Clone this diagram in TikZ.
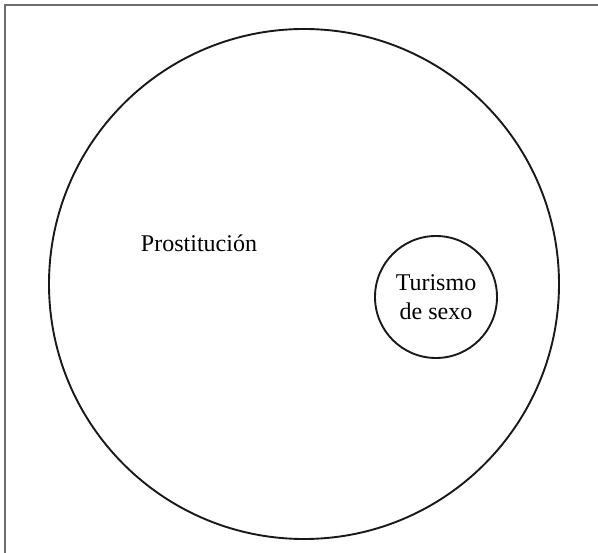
\documentclass[tikz,border=0pt]{standalone}
\usepackage{fontspec}
\setmainfont{Liberation Serif}
\definecolor{frame}{HTML}{6E6E6E}
\tikzset{
  setring/.style={draw=black!90, line width=1.9pt, circle, inner sep=0pt},
  setlbl/.style={font=\fontsize{24}{29}\selectfont, align=center, inner sep=0pt},
  edge/.style={draw=frame, line width=2pt},
}
\begin{document}
\begin{tikzpicture}[x=1pt,y=-1pt]
\useasboundingbox (0,0) rectangle (598,553);

% ----- frame (top and left only) -----
\coordinate (cornerTL) at (4.5,5);
\coordinate (cornerTR) at (598,5);
\coordinate (cornerBL) at (4.5,553);
\draw[edge] (cornerTR) -- (cornerTL) -- (cornerBL);

% ----- outer set -----
\node[setring, minimum size=510pt] (prost) at (304,284) {};
\node[setlbl, anchor=base] (prostlbl) at (199,252) {Prostitución};

% ----- inner set -----
\node[setring, minimum size=122pt, setlbl] (tour) at (436,297) {Turismo\\de sexo};

\end{tikzpicture}
\end{document}
